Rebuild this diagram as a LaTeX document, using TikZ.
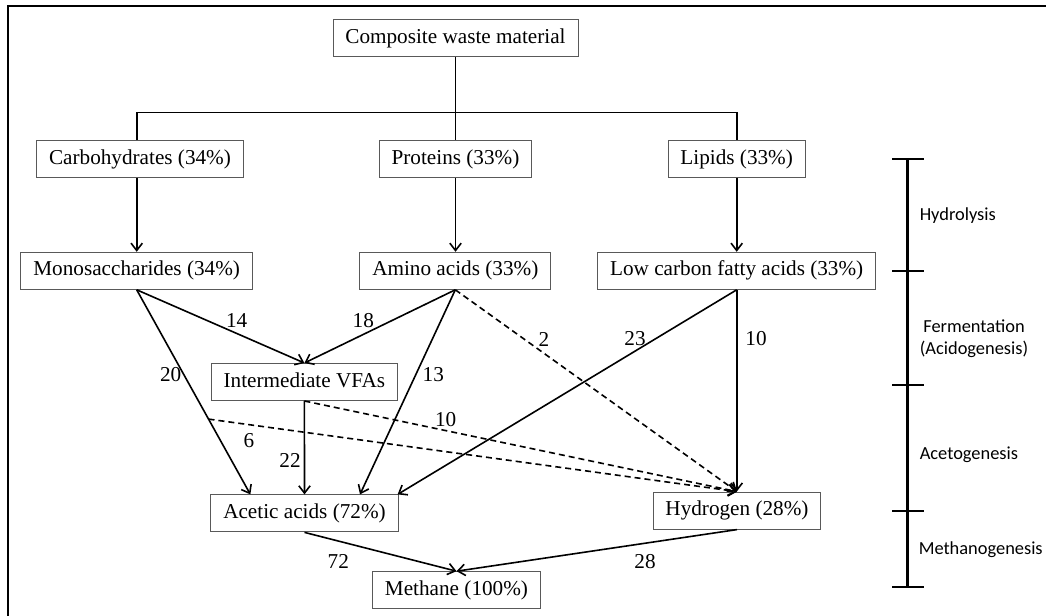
\documentclass[tikz,border=0pt]{standalone}
\usepackage{fontspec}
\setmainfont{Liberation Serif}
\newfontfamily\calib{Carlito}
\usetikzlibrary{arrows.meta,calc}
\begin{document}
\begin{tikzpicture}[x=0.75pt,y=-0.75pt,
  box/.style={draw=black!65, line width=0.75pt, font=\fontsize{15.9}{19}\selectfont,
    inner xsep=9.3pt, inner ysep=0pt, minimum height=27.75pt, text height=11.2pt, text depth=3.6pt},
  conn/.style={line width=1.2pt},
  arr/.style={conn, -{Straight Barb[length=5.5pt,width=8.5pt]}},
  dashedarr/.style={arr, dash pattern=on 4.5pt off 3pt},
  lbl/.style={font=\fontsize{15.9}{19}\selectfont, inner sep=0pt},
  stage/.style={font=\calib\fontsize{13.8}{16.5}\selectfont, inner sep=0pt, align=center},
  bar/.style={line width=1.8pt}]
\useasboundingbox (0,0) rectangle (1046,616);
% frame
\draw[line width=1.5pt] (8,616) -- (8,6.5) -- (1046,6.5);
% boxes
\node[box] (comp) at (455.5,38) {Composite waste material};
\node[box] (carb) at (140,159.2) {Carbohydrates (34\%)};
\node[box] (prot) at (455.5,159.2) {Proteins (33\%)};
\node[box] (lip) at (736.7,159.2) {Lipids (33\%)};
\node[box] (mono) at (136.7,270.8) {Monosaccharides (34\%)};
\node[box] (amino) at (455.3,270.8) {Amino acids (33\%)};
\node[box] (lowc) at (736.7,270.8) {Low carbon fatty acids (33\%)};
\node[box] (vfa) at (304.4,382) {Intermediate VFAs};
\node[box] (acet) at (304.5,513.4) {Acetic acids (72\%)};
\node[box] (hyd) at (737,510.6) {Hydrogen (28\%)};
\node[box] (meth) at (456.5,590.2) {Methane (100\%)};
% hydrolysis tree
\coordinate (bus) at (455.5,112.5);
\draw[conn] (comp.south) -- (prot.north);
\draw[conn] (mono.north |- carb.north) -- (mono.north |- bus) -- (lip.north |- bus) -- (lip.north);
\draw[arr] (mono.north |- carb.south) -- (mono.north);
\draw[arr] (prot.south) -- (prot.south |- amino.north);
\draw[arr] (lip.south) -- (lowc.north);
% fermentation
\coordinate (acetA) at ($(acet.north west)+(40,0)$);
\coordinate (acetC) at ($(acet.north)+(55.5,0)$);
\draw[arr] (mono.south) -- (vfa.north);
\draw[arr] (mono.south) -- coordinate[pos=0.632] (m6) (acetA);
\draw[arr] (amino.south) -- (vfa.north);
\draw[arr] (amino.south) -- (acetC);
\draw[dashedarr] (amino.south) -- (hyd.north);
\draw[arr] (lowc.south) -- ($(acet.north east)+(-1,0)$);
\draw[arr] (lowc.south) -- (lowc.south |- hyd.north);
\draw[arr] (vfa.south) -- (acet.north);
\draw[dashedarr] (vfa.south) -- (hyd.north);
\draw[dashedarr] (m6) -- (hyd.north);
\draw[arr] (acet.south) -- (meth.north);
\draw[arr] (hyd.south) -- (meth.north);
% labels
\node[lbl] (l14) at (236.7,320.7) {14};
\node[lbl] (l18) at (363.3,320.7) {18};
\node[lbl] (l20) at (170.7,375) {20};
\node[lbl] (l13) at (433.3,375) {13};
\node[lbl] (l2) at (544,339) {2};
\node[lbl] (l23) at (635,339) {23};
\node[lbl] (l10a) at (756,339) {10};
\node[lbl] (l6) at (249,440.7) {6};
\node[lbl] (l22) at (290,460) {22};
\node[lbl] (l10b) at (445.7,420) {10};
\node[lbl] (l72) at (338.3,561.7) {72};
\node[lbl] (l28) at (645,562) {28};
% stage bar
\draw[bar] (907.5,159) -- (907.5,587);
\foreach \y in {159,271,385,511,587} \draw[bar] (892,\y) -- (924,\y);
\node[stage, anchor=west] (s1) at (919.5,216) {Hydrolysis};
\node[stage] (s2) at (974,338.5) {Fermentation\\(Acidogenesis)};
\node[stage, anchor=west] (s3) at (919.5,455) {Acetogenesis};
\node[stage, anchor=west] (s4) at (918.5,550) {Methanogenesis};
\end{tikzpicture}
\end{document}
